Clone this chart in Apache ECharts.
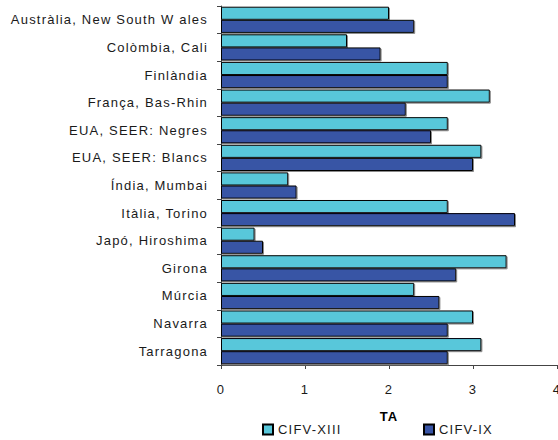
<!DOCTYPE html>
<html>
<head>
<meta charset="utf-8">
<script src="https://cdn.jsdelivr.net/npm/echarts@6/dist/echarts.min.js"></script>
<style>
html, body { margin: 0; padding: 0; background: #fff; }
#chart { width: 558px; height: 440px; letter-spacing: 1.2px; }
</style>
</head>
<body>
<div id="chart"></div>
<script>
const categories = [
  'Austràlia, New South W ales', 'Colòmbia, Cali', 'Finlàndia', 'França, Bas-Rhin',
  'EUA, SEER: Negres', 'EUA, SEER: Blancs', 'Índia, Mumbai', 'Itàlia, Torino',
  'Japó, Hiroshima', 'Girona', 'Múrcia', 'Navarra', 'Tarragona'
]
const cifvXIII = [2.0, 1.5, 2.7, 3.2, 2.7, 3.1, 0.8, 2.7, 0.4, 3.4, 2.3, 3.0, 3.1]
const cifvIX = [2.3, 1.9, 2.7, 2.2, 2.5, 3.0, 0.9, 3.5, 0.5, 2.8, 2.6, 2.7, 2.7]
const xTicks = [0, 1, 2, 3, 4]

const chart = echarts.init(document.getElementById('chart'), null, { renderer: 'svg' })

const barStyle = (color) => ({
  color: color,
  borderColor: '#000',
  borderWidth: 1,
  shadowColor: '#8a8a8a',
  shadowOffsetX: 1,
  shadowOffsetY: 1,
  shadowBlur: 0
})

const option = {
  animation: false,
  textStyle: { fontFamily: "'Liberation Sans', Arial, sans-serif" },
  grid: { left: 221, right: 1, top: 6, bottom: 75, containLabel: false, outerBoundsMode: 'none' },
  xAxis: {
    type: 'value',
    min: xTicks[0],
    max: xTicks[xTicks.length - 1],
    interval: 1,
    name: 'TA',
    nameLocation: 'middle',
    nameGap: 45,
    nameTextStyle: { color: '#000', fontSize: 13, fontWeight: 'bold' },
    axisLine: { show: true, lineStyle: { color: '#444', width: 1 } },
    axisTick: { show: true, length: 4, lineStyle: { color: '#444' } },
    axisLabel: { color: '#1a1a1a', fontSize: 13, margin: 18, showMaxLabel: true },
    splitLine: { show: false }
  },
  yAxis: {
    type: 'category',
    inverse: true,
    data: categories,
    axisLine: { show: true, lineStyle: { color: '#444', width: 1 } },
    axisTick: { show: true, length: 4, lineStyle: { color: '#444' } },
    axisLabel: { color: '#1a1a1a', fontSize: 13, margin: 13 }
  },
  legend: [
    {
      data: ['CIFV-XIII'], left: 262, top: 423, itemWidth: 10, itemHeight: 10,
      padding: 0, icon: 'rect', textStyle: { color: '#1a1a1a', fontSize: 13 }
    },
    {
      data: ['CIFV-IX'], left: 423, top: 423, itemWidth: 10, itemHeight: 10,
      padding: 0, icon: 'rect', textStyle: { color: '#1a1a1a', fontSize: 13 }
    }
  ],
  series: [
    {
      name: 'CIFV-XIII',
      type: 'bar',
      data: cifvXIII,
      barGap: '0%',
      barCategoryGap: '5%',
      itemStyle: barStyle('#58c7da')
    },
    {
      name: 'CIFV-IX',
      type: 'bar',
      data: cifvIX,
      barGap: '0%',
      barCategoryGap: '5%',
      itemStyle: barStyle('#3854a5')
    }
  ]
}
chart.setOption(option)
</script>
</body>
</html>
